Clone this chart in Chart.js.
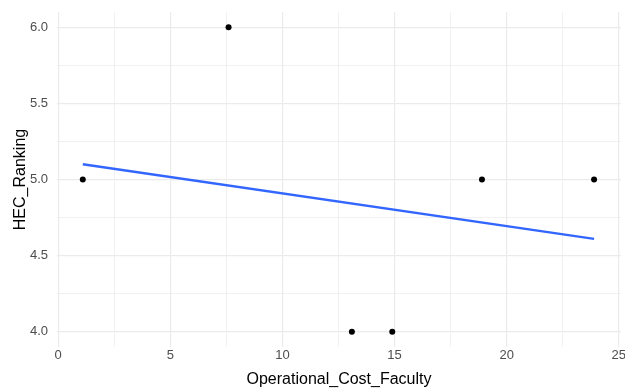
<!DOCTYPE html>
<html>
<head>
<meta charset="utf-8">
<script src="https://cdn.jsdelivr.net/npm/chart.js@4/dist/chart.umd.min.js"></script>
<style>
  html, body { margin: 0; padding: 0; background: #ffffff; }
  #wrap { width: 625px; height: 389px; }
</style>
</head>
<body>
<div id="wrap"><canvas id="chart" width="625" height="389"></canvas></div>
<script>
// Observed values
const operationalCost = [1.1, 7.6, 13.1, 14.9, 18.9, 23.9];
const hecRanking      = [5, 6, 4, 4, 5, 5];

// Linear fit line, end points
const fitX = [1.1, 23.9];
const fitY = [5.1, 4.61];

// Axis ticks (major + minor)
const xTicks = [0, 2.5, 5, 7.5, 10, 12.5, 15, 17.5, 20, 22.5, 25];
const yTicks = [4, 4.25, 4.5, 4.75, 5, 5.25, 5.5, 5.75, 6];

const points = operationalCost.map((x, i) => ({ x: x, y: hecRanking[i] }));
const fitLine = fitX.map((x, i) => ({ x: x, y: fitY[i] }));

const FONT = "'Liberation Sans', Arial, sans-serif";
const GRID = '#EBEBEB';

function isMajor(v, step) {
  return Math.abs(v / step - Math.round(v / step)) < 1e-6;
}

new Chart(document.getElementById('chart'), {
  type: 'scatter',
  data: {
    datasets: [
      {
        type: 'line',
        data: fitLine,
        borderColor: '#3366FF',
        borderWidth: 2.5,
        pointRadius: 0,
        fill: false,
        tension: 0
      },
      {
        type: 'scatter',
        data: points,
        backgroundColor: '#000000',
        borderColor: '#000000',
        pointRadius: 3,
        borderWidth: 0
      }
    ]
  },
  options: {
    responsive: false,
    animation: false,
    layout: { padding: { top: 12, right: 0, left: 0, bottom: 0 } },
    plugins: { legend: { display: false }, tooltip: { enabled: false } },
    scales: {
      x: {
        type: 'linear',
        min: -0.05,
        max: 25.1,
        afterBuildTicks: (s) => { s.ticks = xTicks.map(v => ({ value: v })); },
        afterFit: (s) => { s.height = 42; s.paddingLeft = 0; s.paddingRight = 0; },
        border: { display: false },
        grid: {
          drawTicks: false,
          color: GRID,
          lineWidth: (ctx) => isMajor(ctx.tick.value, 5) ? 1.2 : 0.7
        },
        ticks: {
          padding: 1,
          color: '#4D4D4D',
          font: { family: FONT, size: 13 },
          maxRotation: 0,
          autoSkip: false,
          callback: (v) => isMajor(v, 5) ? String(v) : ''
        },
        title: {
          display: true,
          text: 'Operational_Cost_Faculty',
          color: '#000000',
          font: { family: FONT, size: 16 },
          padding: { top: 0, bottom: 0 }
        }
      },
      y: {
        type: 'linear',
        min: 3.9,
        max: 6.1,
        afterBuildTicks: (s) => { s.ticks = yTicks.map(v => ({ value: v })); },
        afterFit: (s) => { s.width = 57; s.paddingTop = 0; s.paddingBottom = 0; },
        border: { display: false },
        grid: {
          drawTicks: false,
          color: GRID,
          lineWidth: (ctx) => isMajor(ctx.tick.value, 0.5) ? 1.2 : 0.7
        },
        ticks: {
          padding: 9,
          color: '#4D4D4D',
          font: { family: FONT, size: 13 },
          autoSkip: false,
          callback: (v) => isMajor(v, 0.5) ? v.toFixed(1) : ''
        },
        title: {
          display: true,
          text: 'HEC_Ranking',
          color: '#000000',
          font: { family: FONT, size: 16 },
          padding: { top: 11, bottom: 0 }
        }
      }
    }
  }
});
</script>
</body>
</html>
